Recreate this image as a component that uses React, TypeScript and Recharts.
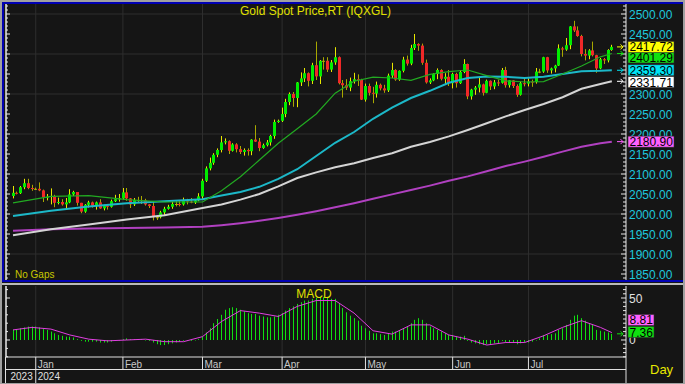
import React from "react";
import { ComposedChart, Bar, Line, XAxis, YAxis, CartesianGrid, ReferenceLine } from "recharts";

// daily candles, 22 Dec 2023 .. 31 Jul 2024 (index = trading day)
const OPEN = [
  2045, 2053, 2052, 2067, 2077, 2065, 2063, 2063, 2059, 2042,
  2043, 2045, 2028, 2030, 2024, 2029, 2049, 2055, 2028, 2006,
  2023, 2029, 2021, 2029, 2014, 2021, 2018, 2032, 2037, 2039,
  2054, 2039, 2024, 2035, 2035, 2034, 2024, 2020, 1992, 1992,
  2004, 2013, 2018, 2025, 2025, 2024, 2035, 2031, 2029, 2034,
  2044, 2083, 2114, 2128, 2148, 2160, 2179, 2182, 2158, 2174,
  2162, 2155, 2160, 2157, 2186, 2181, 2165, 2172, 2179, 2195,
  2230, 2233, 2250, 2280, 2300, 2290, 2329, 2339, 2352, 2333,
  2372, 2344, 2383, 2383, 2361, 2379, 2392, 2327, 2322, 2316,
  2332, 2337, 2335, 2286, 2320, 2303, 2301, 2323, 2314, 2309,
  2346, 2360, 2336, 2358, 2386, 2376, 2415, 2425, 2421, 2378,
  2329, 2334, 2350, 2360, 2338, 2343, 2327, 2350, 2327, 2355,
  2375, 2294, 2311, 2316, 2324, 2303, 2333, 2319, 2329, 2328,
  2360, 2322, 2334, 2320, 2298, 2327, 2326, 2331, 2330, 2356,
  2356, 2392, 2359, 2364, 2371, 2414, 2411, 2422, 2469, 2459,
  2445, 2400, 2396, 2409, 2397, 2364, 2387, 2384, 2410,
];
const HIGH = [
  2070, 2056, 2070, 2088, 2088, 2073, 2066, 2079, 2061, 2050,
  2064, 2048, 2041, 2037, 2040, 2062, 2058, 2055, 2028, 2025,
  2033, 2031, 2031, 2037, 2023, 2025, 2036, 2048, 2050, 2065,
  2065, 2040, 2040, 2043, 2045, 2038, 2025, 2032, 1996, 2008,
  2018, 2023, 2031, 2034, 2034, 2041, 2038, 2040, 2037, 2052,
  2088, 2119, 2141, 2152, 2164, 2195, 2189, 2184, 2177, 2177,
  2170, 2164, 2164, 2187, 2222, 2190, 2176, 2185, 2198, 2236,
  2236, 2266, 2288, 2304, 2305, 2330, 2354, 2365, 2354, 2378,
  2431, 2385, 2392, 2392, 2385, 2417, 2394, 2335, 2337, 2341,
  2353, 2349, 2338, 2326, 2326, 2318, 2331, 2326, 2323, 2351,
  2378, 2362, 2359, 2393, 2396, 2423, 2450, 2427, 2426, 2386,
  2339, 2352, 2364, 2362, 2352, 2360, 2353, 2353, 2360, 2387,
  2376, 2313, 2320, 2342, 2326, 2336, 2334, 2335, 2336, 2365,
  2368, 2335, 2335, 2324, 2331, 2339, 2339, 2336, 2365, 2363,
  2393, 2393, 2366, 2373, 2424, 2418, 2440, 2470, 2483, 2469,
  2448, 2412, 2412, 2431, 2398, 2390, 2390, 2412, 2423,
];
const LOW = [
  2039, 2049, 2050, 2062, 2062, 2058, 2060, 2057, 2030, 2034,
  2024, 2017, 2024, 2021, 2013, 2027, 2045, 2021, 2002, 2003,
  2016, 2016, 2011, 2013, 2009, 2011, 2016, 2030, 2031, 2035,
  2033, 2015, 2020, 2030, 2025, 2021, 2015, 1984, 1985, 1989,
  1996, 2011, 2013, 2019, 2019, 2021, 2024, 2027, 2025, 2032,
  2038, 2080, 2109, 2123, 2142, 2154, 2174, 2150, 2156, 2154,
  2150, 2146, 2146, 2147, 2180, 2157, 2163, 2169, 2171, 2188,
  2228, 2230, 2242, 2272, 2268, 2267, 2320, 2330, 2319, 2325,
  2335, 2325, 2361, 2355, 2355, 2373, 2324, 2291, 2310, 2307,
  2326, 2320, 2285, 2281, 2296, 2277, 2291, 2309, 2303, 2305,
  2340, 2333, 2333, 2354, 2371, 2372, 2410, 2408, 2373, 2326,
  2325, 2332, 2337, 2334, 2323, 2320, 2314, 2316, 2325, 2352,
  2287, 2286, 2298, 2304, 2296, 2302, 2310, 2312, 2320, 2326,
  2316, 2316, 2315, 2293, 2296, 2319, 2319, 2318, 2326, 2352,
  2353, 2353, 2351, 2354, 2370, 2393, 2408, 2412, 2455, 2443,
  2394, 2384, 2387, 2394, 2353, 2362, 2375, 2379, 2408,
];
const CLOSE = [
  2053, 2052, 2067, 2077, 2065, 2063, 2063, 2059, 2042, 2043,
  2045, 2028, 2030, 2024, 2029, 2049, 2055, 2028, 2006, 2023,
  2029, 2021, 2029, 2014, 2021, 2018, 2032, 2037, 2039, 2054,
  2039, 2024, 2035, 2035, 2034, 2024, 2020, 1992, 1992, 2004,
  2013, 2018, 2025, 2025, 2024, 2035, 2031, 2029, 2034, 2044,
  2083, 2114, 2128, 2148, 2160, 2179, 2182, 2158, 2174, 2162,
  2155, 2160, 2157, 2186, 2181, 2165, 2172, 2179, 2195, 2230,
  2233, 2250, 2280, 2300, 2290, 2329, 2339, 2352, 2333, 2372,
  2344, 2383, 2383, 2361, 2379, 2392, 2327, 2322, 2316, 2332,
  2337, 2335, 2286, 2320, 2303, 2301, 2323, 2314, 2309, 2346,
  2360, 2336, 2358, 2386, 2376, 2415, 2425, 2421, 2378, 2329,
  2334, 2350, 2360, 2338, 2343, 2327, 2350, 2327, 2355, 2375,
  2294, 2311, 2316, 2324, 2303, 2333, 2319, 2329, 2328, 2360,
  2322, 2334, 2320, 2298, 2327, 2326, 2331, 2330, 2356, 2356,
  2392, 2359, 2364, 2371, 2414, 2411, 2422, 2469, 2459, 2445,
  2400, 2396, 2409, 2397, 2364, 2387, 2384, 2410, 2417.72,
];
const MACD = [
  12, 13, 14, 15, 16, 16, 16, 15, 13, 12,
  10, 8, 6, 5, 4, 4, 3, 1, -1, -2,
  -2, -2, -2, -3, -3, -3, -2, -1, 0, 1,
  2, 1, 1, 1, 1, 0, -1, -3, -5, -6,
  -6, -5, -4, -3, -2, -1, -1, -1, 0, 1,
  4, 9, 14, 20, 25, 30, 36, 38, 39, 38,
  36, 34, 32, 31, 31, 29, 28, 27, 27, 28,
  30, 32, 35, 38, 40, 43, 45, 47, 47, 49,
  50, 51, 51, 50, 49, 49, 44, 38, 33, 29,
  26, 23, 17, 14, 11, 8, 8, 7, 6, 8,
  10, 10, 11, 14, 16, 20, 24, 26, 24, 20,
  16, 14, 12, 10, 8, 6, 6, 4, 4, 5,
  -1, -3, -4, -5, -6, -5, -5, -4, -4, -1,
  -3, -3, -3, -5, -4, -3, -3, -2, 0, 2,
  6, 6, 7, 8, 12, 14, 18, 24, 29, 30,
  26, 23, 20, 18, 12, 11, 10, 9, 7.36,
];

// moving averages at these day indices
const MA_IDX = [0, 10, 20, 30, 40, 50, 55, 60, 65, 70, 75, 80, 85, 90, 95, 100, 105, 110, 115, 120, 125, 130, 135, 140, 145, 150, 155, 158];
const MA20 = [2028, 2044, 2046, 2036, 2030, 2030, 2058, 2093, 2135, 2177, 2213, 2250, 2302, 2332, 2342, 2340, 2334, 2349, 2356, 2360, 2346, 2333, 2330, 2331, 2350, 2370, 2393, 2401.29];
const MA50 = [1995, 2008, 2019, 2027, 2032, 2037, 2046, 2055, 2068, 2088, 2112, 2145, 2178, 2205, 2238, 2266, 2290, 2308, 2328, 2340, 2344, 2343, 2340, 2343, 2350, 2357, 2358, 2359.3];
const MA100 = [1947, 1962, 1974, 1986, 1997, 2015, 2024, 2036, 2050, 2069, 2090, 2104, 2117, 2127, 2140, 2152, 2168, 2180, 2194, 2210, 2227, 2244, 2260, 2275, 2292, 2313, 2325, 2331.71];
const MA200 = [1958, 1962, 1964, 1965, 1966, 1968, 1972, 1977, 1983, 1990, 1998, 2007, 2017, 2027, 2038, 2049, 2060, 2071, 2083, 2094, 2107, 2120, 2131, 2143, 2156, 2168, 2177, 2180.9];

const SIG_IDX = [0, 5, 10, 15, 20, 25, 30, 35, 40, 45, 50, 55, 60, 65, 70, 75, 80, 85, 90, 95, 100, 105, 110, 115, 120, 125, 130, 135, 140, 145, 150, 155, 158];
const SIGNAL = [12, 15, 13, 6, 1, -1, 0, 1, -2, -2, 4, 22, 35, 32, 28, 40, 47, 47, 32, 11, 7, 18, 18, 6, 1, -6, -3, -3, 5, 15, 23, 15, 8.81];

const MONTH_IDX = [6, 29, 50, 71, 93, 116, 136];
const MONTHS = ["Jan", "Feb", "Mar", "Apr", "May", "Jun", "Jul"];
const YEARS = ["2023", "2024"];
const PRICE_LABELS = [1850, 1900, 1950, 2000, 2050, 2100, 2150, 2200, 2250, 2300, 2450, 2500]; // 2350/2400 sit under the value tags
const PRICE_GRID = [1900, 2000, 2100, 2200, 2300, 2400, 2500];
const MACD_LABELS = [0, 50];

const FONT = "'Liberation Sans', Arial, sans-serif";
const X_DOMAIN = [-1.85, 161.74];
const P_DOMAIN = [1835, 2525];
const M_DOMAIN = [-20.24, 64.29];

const candles = CLOSE.map((c, i) => ({ i, o: OPEN[i], h: HIGH[i], l: LOW[i], c, macd: MACD[i] }));
const pts = (idx: number[], vals: number[]) => idx.map((i, k) => ({ i, v: vals[k] }));
const priceMinor = Array.from({ length: 69 }, (_, k) => 1840 + k * 10);
const macdMinor = Array.from({ length: 17 }, (_, k) => -20 + k * 5);
const macdLeft = Array.from({ length: 9 }, (_, k) => -20 + k * 10);

const Candle = (p: any) => {
  const { x, y, width, height, payload } = p;
  if (height == null || isNaN(height)) return null;
  const cx = Math.round(x + width / 2) + 0.5;
  const k = height / (payload.h - payload.l);
  const yo = y + (payload.h - payload.o) * k;
  const yc = y + (payload.h - payload.c) * k;
  const up = payload.c > payload.o;
  const flat = payload.c === payload.o;
  const body = flat ? "#b0b000" : up ? "#00ec00" : "#f02828";
  const top = Math.min(yo, yc);
  const bh = Math.max(1, Math.abs(yc - yo));
  return (
    <g>
      <line x1={cx} x2={cx} y1={y} y2={y + height} stroke={up ? "#e8e800" : "#a8a800"} strokeWidth={1} />
      <rect x={cx - 1.5} y={top} width={3} height={bh} fill={body} />
    </g>
  );
};

const MacdBar = (p: any) => {
  const { x, y, width, height } = p;
  if (height == null || isNaN(height)) return null;
  const top = Math.min(y, y + height);
  return <rect x={Math.round(x + width / 2)} y={top} width={1} height={Math.max(0.5, Math.abs(height))} fill="#10e010" />;
};

const PriceTick = (p: any) => {
  const { x, y, payload } = p;
  const v = payload.value;
  const major = v % 50 === 0;
  return (
    <g>
      <line x1={x - (major ? 5 : 3)} x2={x} y1={y} y2={y} stroke="#e8e8e8" />
      {PRICE_LABELS.includes(v) && (
        <text x={x + 3} y={y + 4.5} fill="#1ec8dc" fontSize={12} fontFamily={FONT}>
          {v.toFixed(2)}
        </text>
      )}
    </g>
  );
};

const LeftTick = (p: any) => {
  const { x, y, payload } = p;
  const major = payload.value % 50 === 0;
  return <line x1={x} x2={x + (major ? 4 : 2)} y1={y} y2={y} stroke="#e8e8e8" />;
};

const MacdTick = (p: any) => {
  const { x, y, payload } = p;
  const v = payload.value;
  const major = MACD_LABELS.includes(v);
  return (
    <g>
      <line x1={x - (major ? 5 : 3)} x2={x} y1={y} y2={y} stroke="#e8e8e8" />
      {major && (
        <text x={x + 3} y={y + 4.5} fill="#e0e0e0" fontSize={12} fontFamily={FONT}>
          {v}
        </text>
      )}
    </g>
  );
};

const MonthTick = (p: any) => {
  const { x, y, index } = p;
  const first = index === 0;
  return (
    <g fontFamily={FONT} fontSize={10}>
      <line x1={x} x2={x} y1={y} y2={y + (first ? 27 : 12)} stroke="#e0e0e0" />
      <text x={x + 2} y={y + 11} fill="#c8c8c8">{MONTHS[index]}</text>
      {first && (
        <>
          <text x={x - 3} y={y + 23} textAnchor="end" fill="#e0e0e0">{YEARS[0]}</text>
          <text x={x + 2} y={y + 23} fill="#e0e0e0">{YEARS[1]}</text>
        </>
      )}
    </g>
  );
};

const ValueTag = (p: any) => {
  const { viewBox, text, bg, arrow, dy = 0, w = 46 } = p;
  if (!viewBox) return null;
  const rx = viewBox.x + viewBox.width;
  const y = viewBox.y;
  const by = y + dy;
  return (
    <g>
      {arrow && (
        <path d={`M${rx - 9},${y} h6 M${rx - 5.5},${y - 2.5} l2.5,2.5 l-2.5,2.5`} stroke={arrow} fill="none" strokeWidth={1} />
      )}
      <rect x={rx + 2} y={by - 5.5} width={w} height={11} fill={bg} stroke="#303030" strokeWidth={0.6} />
      <text x={rx + 3.5} y={by + 4.5} fontSize={12} fontFamily={FONT} fill="#000">
        {text}
      </text>
    </g>
  );
};

const lineProps = { dataKey: "v", dot: false, activeDot: false, isAnimationActive: false, type: "linear" as const };

export default function App() {
  const last = CLOSE[CLOSE.length - 1];
  const lastOf = (a: number[]) => a[a.length - 1];
  return (
    <div style={{ position: "absolute", left: 0, top: 0, width: 685, height: 384, background: "#151515", overflow: "hidden", fontFamily: FONT }}>
      {/* price panel */}
      <div style={{ position: "absolute", left: 0, top: 0 }}>
        <ComposedChart width={685} height={282} data={candles} margin={{ top: 4, right: 0, bottom: 2, left: 5 }}>
          <CartesianGrid yAxisId="p" stroke="#2e2e2e" horizontalValues={PRICE_GRID} verticalValues={MONTH_IDX} />
          <XAxis dataKey="i" type="number" domain={X_DOMAIN} allowDataOverflow hide />
          <YAxis yAxisId="p" orientation="right" width={59} domain={P_DOMAIN} allowDataOverflow ticks={priceMinor} interval={0}
            tickSize={0} tickMargin={0} axisLine={{ stroke: "#e8e8e8" }} tickLine={false} tick={<PriceTick />} />
          <YAxis yAxisId="l" orientation="left" width={1} domain={P_DOMAIN} allowDataOverflow ticks={priceMinor} interval={0}
            tickSize={0} tickMargin={0} axisLine={{ stroke: "#e8e8e8", strokeWidth: 1.5 }} tickLine={false} tick={<LeftTick />} />
          <Bar yAxisId="p" dataKey={(d: any) => [d.l, d.h]} barSize={3} shape={<Candle />} isAnimationActive={false} />
          <Line yAxisId="p" data={pts(MA_IDX, MA200)} stroke="#b040c0" strokeWidth={2} {...lineProps} />
          <Line yAxisId="p" data={pts(MA_IDX, MA100)} stroke="#d4d4d4" strokeWidth={2} {...lineProps} />
          <Line yAxisId="p" data={pts(MA_IDX, MA50)} stroke="#1cb8c8" strokeWidth={2} {...lineProps} />
          <Line yAxisId="p" data={pts(MA_IDX, MA20)} stroke="#22aa22" strokeWidth={1.2} {...lineProps} />
        </ComposedChart>
      </div>
      {/* last-value tags, same scales, drawn above the axis */}
      <div style={{ position: "absolute", left: 0, top: 0 }}>
        <ComposedChart width={685} height={282} data={candles} margin={{ top: 4, right: 59, bottom: 2, left: 6 }}>
          <XAxis dataKey="i" type="number" domain={X_DOMAIN} allowDataOverflow hide />
          <YAxis yAxisId="p" domain={P_DOMAIN} allowDataOverflow hide />
          <ReferenceLine yAxisId="p" y={lastOf(MA200)} stroke="none"
            label={<ValueTag text={lastOf(MA200).toFixed(2)} bg="#ff60ff" arrow="#ff60ff" />} />
          <ReferenceLine yAxisId="p" y={lastOf(MA100)} stroke="none"
            label={<ValueTag text={lastOf(MA100).toFixed(2)} bg="#ffffff" arrow="#ffffff" dy={0.7} />} />
          <ReferenceLine yAxisId="p" y={lastOf(MA50)} stroke="none"
            label={<ValueTag text={lastOf(MA50).toFixed(2)} bg="#00e4f4" arrow="#00e4f4" />} />
          <ReferenceLine yAxisId="p" y={lastOf(MA20)} stroke="none"
            label={<ValueTag text={lastOf(MA20).toFixed(2)} bg="#10e010" arrow="#10e010" dy={4} />} />
          <ReferenceLine yAxisId="p" y={last} stroke="none"
            label={<ValueTag text={last.toFixed(2)} bg="#ffff00" arrow="#ffff00" />} />
        </ComposedChart>
      </div>
      {/* MACD panel */}
      <div style={{ position: "absolute", left: 0, top: 283 }}>
        <ComposedChart width={685} height={101} data={candles} margin={{ top: 3, right: 0, bottom: 0, left: 5 }}>
          <CartesianGrid yAxisId="m" stroke="#2e2e2e" horizontal={false} verticalValues={MONTH_IDX} />
          <XAxis dataKey="i" type="number" domain={X_DOMAIN} allowDataOverflow ticks={MONTH_IDX} interval={0} height={27}
            tickSize={0} tickMargin={0} axisLine={{ stroke: "#e0e0e0" }} tickLine={false} tick={<MonthTick />} />
          <YAxis yAxisId="m" orientation="right" width={59} domain={M_DOMAIN} allowDataOverflow ticks={macdMinor} interval={0}
            tickSize={0} tickMargin={0} axisLine={{ stroke: "#e8e8e8" }} tickLine={false} tick={<MacdTick />} />
          <YAxis yAxisId="ml" orientation="left" width={1} domain={M_DOMAIN} allowDataOverflow ticks={macdLeft} interval={0}
            tickSize={0} tickMargin={0} axisLine={{ stroke: "#e8e8e8", strokeWidth: 1.5 }} tickLine={false} tick={<LeftTick />} />
          <Bar yAxisId="m" dataKey="macd" barSize={1} shape={<MacdBar />} isAnimationActive={false} />
          <Line yAxisId="m" data={pts(SIG_IDX, SIGNAL)} stroke="#e040e0" strokeWidth={1} {...lineProps} />
        </ComposedChart>
      </div>
      <div style={{ position: "absolute", left: 0, top: 283 }}>
        <ComposedChart width={685} height={101} data={candles} margin={{ top: 3, right: 59, bottom: 27, left: 6 }}>
          <XAxis dataKey="i" type="number" domain={X_DOMAIN} allowDataOverflow hide />
          <YAxis yAxisId="m" domain={M_DOMAIN} allowDataOverflow hide />
          <ReferenceLine yAxisId="m" y={lastOf(SIGNAL)} stroke="none"
            label={<ValueTag text={lastOf(SIGNAL).toFixed(2)} bg="#ff60ff" dy={-12.6} w={26} />} />
          <ReferenceLine yAxisId="m" y={lastOf(MACD)} stroke="none"
            label={<ValueTag text={lastOf(MACD).toFixed(2)} bg="#10e010" arrow="#10e010" dy={-1.8} w={26} />} />
        </ComposedChart>
      </div>
      {/* frame and captions */}
      <svg width={685} height={384} style={{ position: "absolute", left: 0, top: 0, pointerEvents: "none" }}>
        <rect x={0} y={0} width={685} height={2} fill="#a0a0a0" />
        <rect x={0} y={0} width={2} height={384} fill="#a0a0a0" />
        <rect x={683} y={0} width={2} height={384} fill="#a0a0a0" />
        <rect x={0} y={383} width={685} height={1} fill="#a0a0a0" />
        <rect x={2} y={2} width={681} height={2} fill="#0000b4" />
        <rect x={2} y={2} width={2} height={280} fill="#0000b4" />
        <rect x={2} y={280} width={681} height={2} fill="#0000b4" />
        <rect x={2} y={283} width={681} height={2} fill="#b8b8b8" />
        <rect x={5} y={369} width={621} height={1} fill="#e0e0e0" />
        <rect x={625.5} y={357} width={1} height={26} fill="#e0e0e0" />
        <rect x={5} y={357} width={1} height={26} fill="#e0e0e0" />
        <text x={315.5} y={15} textAnchor="middle" fontSize={12} fill="#e0e000" fontFamily={FONT}>
          Gold Spot Price,RT (IQXGL)
        </text>
        <text x={15} y={278} fontSize={10} fill="#c8c800" fontFamily={FONT}>No Gaps</text>
        <text x={314} y={298} textAnchor="middle" fontSize={12} fill="#e0e000" fontFamily={FONT}>MACD</text>
        <text x={650} y={374} fontSize={13} fill="#e8e800" fontFamily={FONT}>Day</text>
      </svg>
    </div>
  );
}
